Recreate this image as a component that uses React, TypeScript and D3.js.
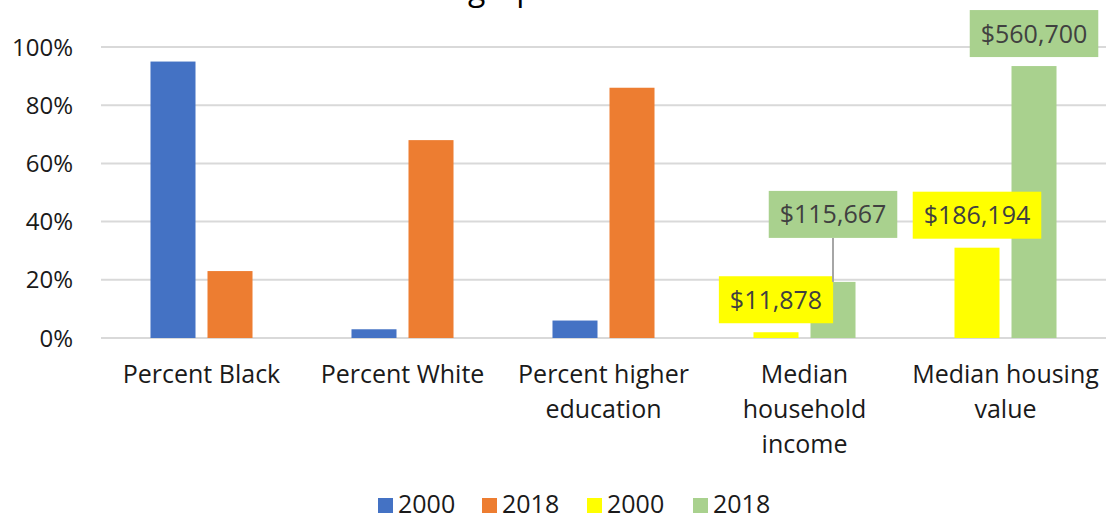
import React, { useEffect, useRef } from "react";
import * as d3 from "d3";

const categories = [
  "Percent Black",
  "Percent White",
  "Percent higher education",
  "Median household income",
  "Median housing value",
];
const categoryLines = [
  ["Percent Black"],
  ["Percent White"],
  ["Percent higher", "education"],
  ["Median", "household", "income"],
  ["Median housing", "value"],
];
const pctCategories = ["Percent Black", "Percent White", "Percent higher education"];
const pct2000 = [0.95, 0.03, 0.06];
const pct2018 = [0.23, 0.68, 0.86];
const dollarCategories = ["Median household income", "Median housing value"];
const dollar2000 = [11878, 186194];
const dollar2018 = [115667, 560700];
const yTicks = [0, 0.2, 0.4, 0.6, 0.8, 1.0];
const legendLabels = ["2000", "2018", "2000", "2018"];
const legendColors = ["#4472C4", "#ED7D31", "#FFFF00", "#A9D18E"];
const titleText = "Central Harlem Demographic Trends 2000-2018";

const W = 1106;
const H = 516;
const FONT = "'Open Sans', 'Noto Sans', sans-serif";

export default function App() {
  const ref = useRef<SVGSVGElement>(null);

  useEffect(() => {
    const svg = d3.select(ref.current);
    svg.selectAll("*").remove();

    const x = d3.scaleBand<string>().domain(categories).range([101, 1106]).padding(0);
    const inner = d3
      .scaleBand<string>()
      .domain(["a", "b"])
      .range([0, x.bandwidth()])
      .paddingInner(0.2105)
      .paddingOuter(0.868);
    const y = d3.scaleLinear().domain([0, 1]).range([338, 47]);
    const yD = d3.scaleLinear().domain([0, 600000]).range([338, 47]);

    // title (cut off at top)
    svg
      .append("text")
      .attr("x", 143)
      .attr("y", 0)
      .attr("font-family", FONT)
      .attr("font-size", 32)
      .attr("fill", "#000")
      .text(titleText);

    // gridlines
    svg
      .append("g")
      .selectAll("line")
      .data(yTicks)
      .join("line")
      .attr("x1", 101)
      .attr("x2", 1106)
      .attr("y1", (d) => y(d))
      .attr("y2", (d) => y(d))
      .attr("stroke", "#D9D9D9")
      .attr("stroke-width", 2);

    // y labels
    svg
      .append("g")
      .selectAll("text")
      .data(yTicks)
      .join("text")
      .attr("x", 73)
      .attr("y", (d) => y(d))
      .attr("dy", "0.36em")
      .attr("text-anchor", "end")
      .attr("font-family", FONT)
      .attr("font-size", 24)
      .attr("fill", "#1a1a1a")
      .text((d) => d3.format(".0%")(d));

    // percent bars
    const g = svg.append("g");
    g.selectAll("rect.p2000")
      .data(pctCategories)
      .join("rect")
      .attr("x", (c) => (x(c) as number) + (inner("a") as number))
      .attr("width", inner.bandwidth())
      .attr("y", (_c, i) => y(pct2000[i]))
      .attr("height", (_c, i) => y(0) - y(pct2000[i]))
      .attr("fill", legendColors[0]);
    g.selectAll("rect.p2018")
      .data(pctCategories)
      .join("rect")
      .attr("x", (c) => (x(c) as number) + (inner("b") as number))
      .attr("width", inner.bandwidth())
      .attr("y", (_c, i) => y(pct2018[i]))
      .attr("height", (_c, i) => y(0) - y(pct2018[i]))
      .attr("fill", legendColors[1]);

    // dollar bars
    const gd = svg.append("g");
    gd.selectAll("rect")
      .data(dollarCategories)
      .join("rect")
      .attr("x", (c) => (x(c) as number) + (inner("a") as number))
      .attr("width", inner.bandwidth())
      .attr("y", (_c, i) => yD(dollar2000[i]))
      .attr("height", (_c, i) => yD(0) - yD(dollar2000[i]))
      .attr("fill", legendColors[2]);
    const gd2 = svg.append("g");
    gd2.selectAll("rect")
      .data(dollarCategories)
      .join("rect")
      .attr("x", (c) => (x(c) as number) + (inner("b") as number))
      .attr("width", inner.bandwidth())
      .attr("y", (_c, i) => yD(dollar2018[i]))
      .attr("height", (_c, i) => yD(0) - yD(dollar2018[i]))
      .attr("fill", legendColors[3]);

    // dollar labels
    const fmt = (v: number) => "$" + d3.format(",")(v);
    const labels: { cx: number; top: number; v: number; color: string; lift: number }[] = [];
    dollarCategories.forEach((c, i) => {
      const cxA = (x(c) as number) + (inner("a") as number) + inner.bandwidth() / 2;
      const cxB = (x(c) as number) + (inner("b") as number) + inner.bandwidth() / 2;
      labels.push({ cx: cxA, top: yD(dollar2000[i]), v: dollar2000[i], color: legendColors[2], lift: 9 });
      labels.push({ cx: cxB, top: yD(dollar2018[i]), v: dollar2018[i], color: legendColors[3], lift: i === 0 ? 44 : 9 });
    });
    const boxH = 47;
    labels.forEach((l) => {
      const lg = svg.append("g");
      if (l.lift > 20) {
        lg.append("line")
          .attr("x1", l.cx)
          .attr("x2", l.cx)
          .attr("y1", l.top - l.lift)
          .attr("y2", l.top)
          .attr("stroke", "#A6A6A6")
          .attr("stroke-width", 2);
      }
      const rect = lg.append("rect").attr("fill", l.color);
      const t = lg
        .append("text")
        .attr("x", l.cx)
        .attr("y", l.top - l.lift - boxH / 2)
        .attr("dy", "0.36em")
        .attr("text-anchor", "middle")
        .attr("font-family", FONT)
        .attr("font-size", 25)
        .attr("fill", "#404040")
        .text(fmt(l.v));
      const tw = (t.node() as SVGTextElement).getComputedTextLength();
      const bw = tw + 22;
      rect
        .attr("x", l.cx - bw / 2)
        .attr("width", bw)
        .attr("y", l.top - l.lift - boxH)
        .attr("height", boxH);
    });

    // category labels
    const cg = svg.append("g");
    categories.forEach((c, i) => {
      const cx = (x(c) as number) + x.bandwidth() / 2;
      categoryLines[i].forEach((line, j) => {
        cg.append("text")
          .attr("x", cx)
          .attr("y", 383 + j * 35)
          .attr("text-anchor", "middle")
          .attr("font-family", FONT)
          .attr("font-size", 25)
          .attr("fill", "#1a1a1a")
          .text(line);
      });
    });

    // legend
    const lx = [378, 482, 587, 693];
    const leg = svg.append("g");
    legendLabels.forEach((lab, i) => {
      leg.append("rect")
        .attr("x", lx[i])
        .attr("y", 498)
        .attr("width", 15)
        .attr("height", 15)
        .attr("fill", legendColors[i]);
      leg.append("text")
        .attr("x", lx[i] + 20)
        .attr("y", 513)
        .attr("font-family", FONT)
        .attr("font-size", 25)
        .attr("fill", "#1a1a1a")
        .text(lab);
    });
  }, []);

  return (
    <svg
      ref={ref}
      width={W}
      height={H}
      style={{ position: "absolute", left: 0, top: 0, background: "#fff" }}
    />
  );
}
